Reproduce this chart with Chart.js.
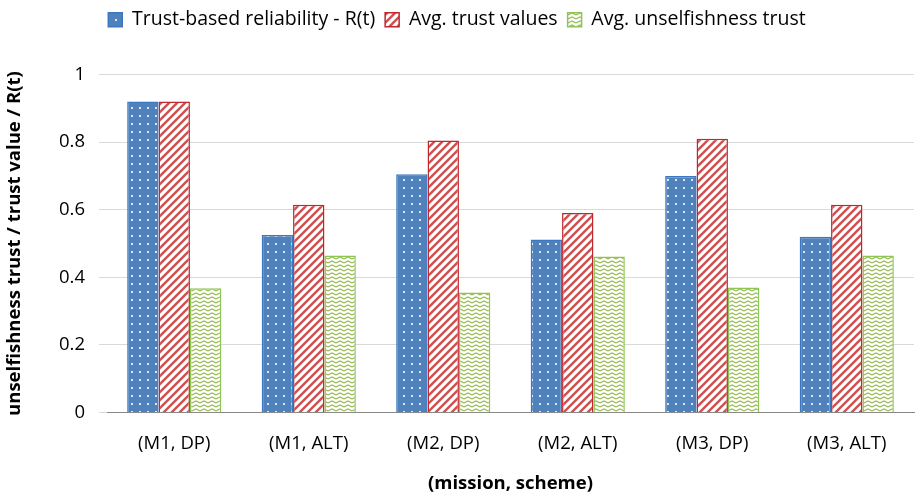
<!DOCTYPE html>
<html><head><meta charset="utf-8">
<script src="https://cdn.jsdelivr.net/npm/chart.js@4"></script>
<style>body{margin:0;background:#fff}#wrap{width:916px;height:495px}</style>
</head><body><div id="wrap"><canvas id="c"></canvas></div>
<script>
const categories = ['(M1, DP)', '(M1, ALT)', '(M2, DP)', '(M2, ALT)', '(M3, DP)', '(M3, ALT)'];
const reliability = [0.92, 0.525, 0.705, 0.512, 0.70, 0.52];
const avgTrust = [0.92, 0.615, 0.805, 0.59, 0.81, 0.615];
const unselfish = [0.368, 0.465, 0.355, 0.462, 0.37, 0.465];

const makePattern = (kind) => {
  const p = document.createElement('canvas');
  p.width = 8; p.height = 8;
  const g = p.getContext('2d');
  if (kind === 'dots') {
    g.fillStyle = '#4f81bd'; g.fillRect(0, 0, 8, 8);
    g.fillStyle = '#dfe8f3'; g.fillRect(3, 3, 2, 2);
  } else if (kind === 'stripes') {
    g.fillStyle = '#fff'; g.fillRect(0, 0, 8, 8);
    g.strokeStyle = '#d05050'; g.lineWidth = 2.4;
    g.beginPath();
    g.moveTo(-2, 10); g.lineTo(10, -2);
    g.moveTo(-2, 2); g.lineTo(2, -2);
    g.moveTo(6, 10); g.lineTo(10, 6);
    g.stroke();
  } else {
    g.fillStyle = '#fff'; g.fillRect(0, 0, 8, 8);
    g.strokeStyle = '#9bbb59'; g.lineWidth = 1.3;
    g.beginPath(); g.moveTo(0, 3); g.lineTo(4, 1); g.lineTo(8, 3); g.stroke();
    g.beginPath(); g.moveTo(0, 7); g.lineTo(4, 5); g.lineTo(8, 7); g.stroke();
  }
  return g.createPattern(p, 'repeat');
};

// extra space below the legend
const legendGap = {
  id: 'legendGap',
  beforeInit(chart) {
    const fit = chart.legend.fit;
    chart.legend.fit = function () { fit.bind(chart.legend)(); this.height += 35; };
  }
};

Chart.defaults.font.family = 'Open Sans';
Chart.defaults.color = '#000';

new Chart(document.getElementById('c'), {
  type: 'bar',
  data: {
    labels: categories,
    datasets: [
      { label: 'Trust-based reliability - R(t)', data: reliability, backgroundColor: makePattern('dots'), borderColor: '#3c78c0', borderWidth: 1.5 },
      { label: 'Avg. trust values', data: avgTrust, backgroundColor: makePattern('stripes'), borderColor: '#c0282d', borderWidth: 1.5 },
      { label: 'Avg. unselfishness trust', data: unselfish, backgroundColor: makePattern('zig'), borderColor: '#8cc653', borderWidth: 1.5 }
    ]
  },
  options: {
    responsive: true, maintainAspectRatio: false, animation: false,
    layout: { padding: { top: 0, right: 2, left: 0, bottom: 0 } },
    datasets: { bar: { categoryPercentage: 0.7, barPercentage: 1 } },
    plugins: {
      legend: { position: 'top', labels: { font: { size: 19.5 }, boxWidth: 14, boxHeight: 14, padding: 10 } },
      tooltip: { enabled: false }
    },
    scales: {
      x: {
        grid: { display: false },
        border: { color: '#888' },
        ticks: { font: { size: 18.5 }, padding: 12 },
        title: { display: true, text: '(mission, scheme)', font: { size: 18.5, weight: 'bold' }, padding: { top: 6, bottom: 0 } }
      },
      y: {
        min: 0, max: 1,
        afterFit: s => { s.width = 107; },
        ticks: { stepSize: 0.2, font: { size: 18.5 }, padding: 14, callback: v => Math.round(v * 10) / 10 },
        grid: { color: '#d9d9d9' },
        border: { display: false },
        title: { display: true, text: 'unselfishness trust / trust value / R(t)', font: { size: 18.5, weight: 'bold' } }
      }
    }
  },
  plugins: [legendGap]
});
</script></body></html>
